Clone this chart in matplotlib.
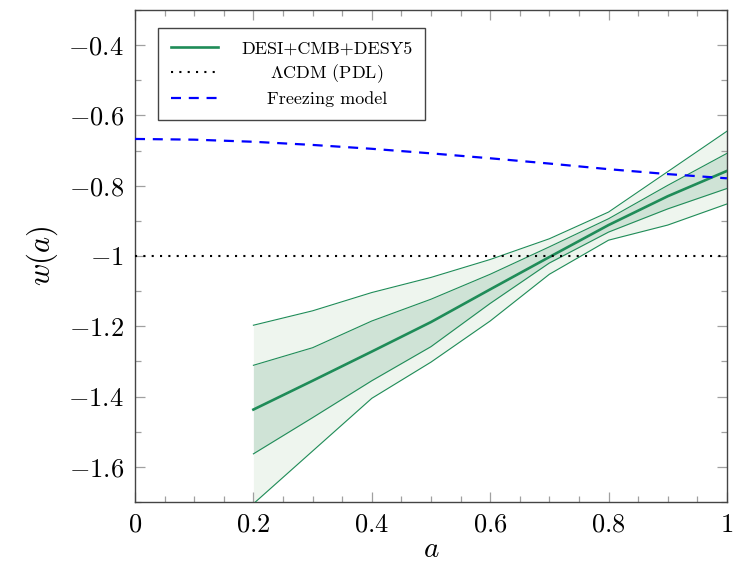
import matplotlib
matplotlib.use('Agg')
import matplotlib.pyplot as plt
from matplotlib.ticker import MultipleLocator

plt.rcParams['font.family'] = 'serif'
plt.rcParams['font.serif'] = ['cmr10', 'DejaVu Serif']
plt.rcParams['mathtext.fontset'] = 'cm'
plt.rcParams['axes.formatter.use_mathtext'] = True
plt.rcParams['axes.unicode_minus'] = True

# reconstruction, DESI+CMB+DESY5
a_rec = [0.2, 0.3, 0.4, 0.5, 0.6, 0.7, 0.8, 0.9, 1.0]
w_mean = [-1.437, -1.355, -1.272, -1.188, -1.095, -1.003, -0.912, -0.830, -0.758]
w_1s_hi = [-1.311, -1.261, -1.185, -1.123, -1.052, -0.974, -0.894, -0.799, -0.708]
w_1s_lo = [-1.563, -1.460, -1.355, -1.258, -1.135, -1.020, -0.932, -0.866, -0.808]
w_2s_hi = [-1.197, -1.156, -1.104, -1.061, -1.010, -0.951, -0.875, -0.760, -0.645]
w_2s_lo = [-1.705, -1.555, -1.405, -1.302, -1.185, -1.052, -0.955, -0.912, -0.852]

# freezing model
a_frz = [0.0, 0.1, 0.2, 0.3, 0.4, 0.5, 0.6, 0.7, 0.8, 0.9, 1.0]
w_frz = [-0.667, -0.669, -0.675, -0.684, -0.695, -0.708, -0.722, -0.737, -0.753, -0.767, -0.779]

green = '#1f8c58'

fig = plt.figure(figsize=(7.35, 5.7), dpi=100)
ax = fig.add_axes([0.1837, 0.1193, 0.8053, 0.8632])

ax.fill_between(a_rec, w_2s_lo, w_2s_hi, color='#eef5ee', lw=0, zorder=1)
ax.fill_between(a_rec, w_1s_lo, w_1s_hi, color='#cfe3d6', lw=0, zorder=2)
for band in [w_2s_hi, w_2s_lo, w_1s_hi, w_1s_lo]:
    ax.plot(a_rec, band, color=green, lw=0.8, zorder=3)
ax.plot(a_rec, w_mean, color=green, lw=1.9, zorder=4, label='DESI+CMB+DESY5')

ax.axhline(-1, color='black', lw=1.5, ls=(0, (1, 3)), zorder=5,
           label=r'$\mathit{\Lambda}$CDM (PDL)')
ax.plot(a_frz, w_frz, color='blue', lw=1.6, ls=(0, (4.5, 3.5)), zorder=6,
        label='Freezing model')

ax.set_xlim(0, 1)
ax.set_ylim(-1.7, -0.3)
ax.xaxis.set_minor_locator(MultipleLocator(0.05))
ax.yaxis.set_minor_locator(MultipleLocator(0.1))
ax.set_xticks([0, 0.2, 0.4, 0.6, 0.8, 1])
ax.set_xticklabels(['$0$', '$0.2$', '$0.4$', '$0.6$', '$0.8$', '$1$'])
ax.set_yticks([-1.6, -1.4, -1.2, -1, -0.8, -0.6, -0.4])
ax.set_yticklabels(['$-1.6$', '$-1.4$', '$-1.2$', '$-1$', '$-0.8$', '$-0.6$', '$-0.4$'])
ax.tick_params(which='both', direction='in', top=True, right=True,
               color='#a0a0a0', labelsize=19, pad=8)
ax.tick_params(which='major', length=7, width=0.9)
ax.tick_params(which='minor', length=4, width=0.9)
for s in ax.spines.values():
    s.set_color('#444444')
    s.set_linewidth(1.0)

ax.set_xlabel('$a$', fontsize=21, labelpad=0)
ax.set_ylabel('$w(a)$', fontsize=22, labelpad=6)

leg = ax.legend(loc='upper left', bbox_to_anchor=(0.0389, 0.9634), borderaxespad=0,
                fontsize=13, fancybox=False, framealpha=1, edgecolor='#444444',
                handlelength=2.6, handletextpad=1.3, borderpad=0.7, labelspacing=0.35)
leg.get_frame().set_linewidth(1.0)

# centre the legend labels like pgfplots does
fig.canvas.draw()
texts = leg.get_texts()
widths = [t.get_window_extent().width for t in texts]
for t, w in zip(texts, widths):
    t.set_x((max(widths) - w) / 2)

fig.savefig('out.png', dpi=100)
